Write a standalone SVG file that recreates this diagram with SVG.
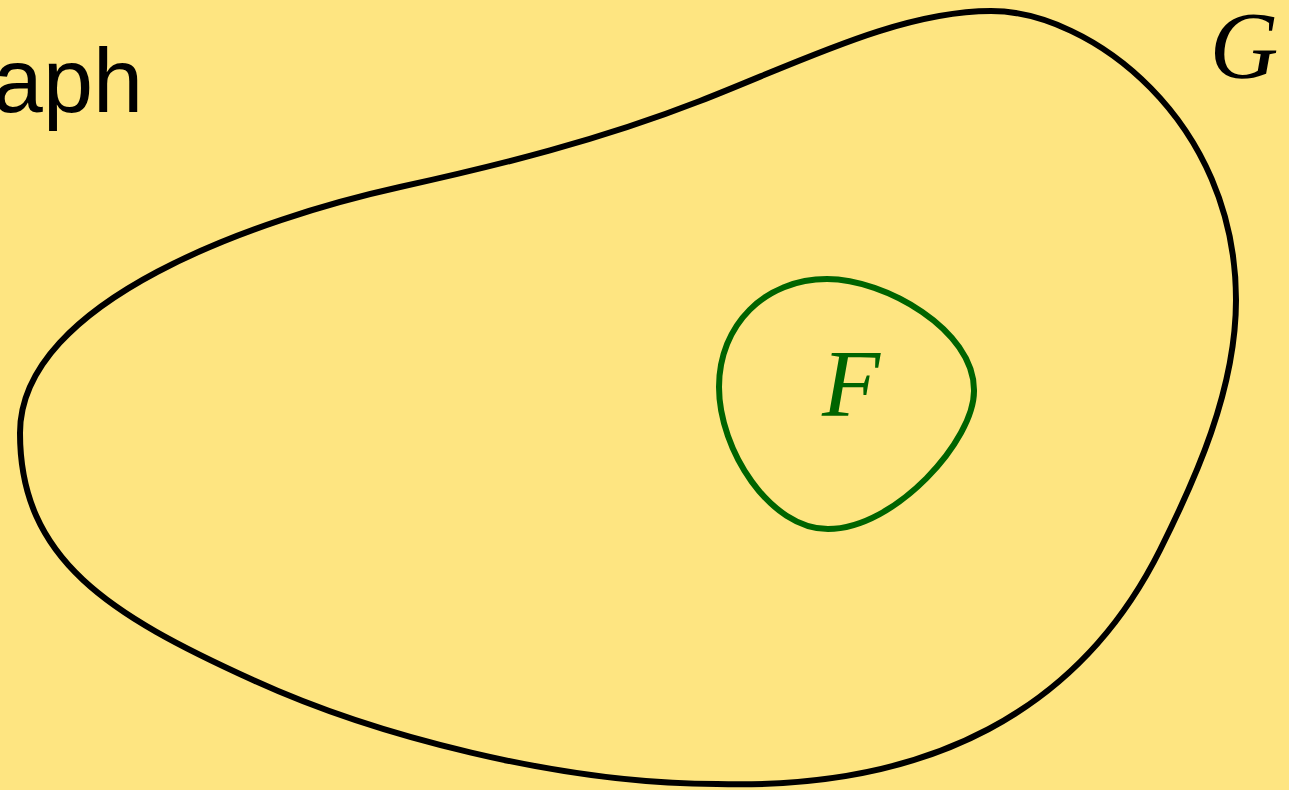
<svg xmlns="http://www.w3.org/2000/svg" width="1289" height="790" viewBox="0 0 1289 790">
  <style>
    .bg { fill: #FEE581; }
    .outline { fill: none; stroke-linejoin: round; }
    .g-outline { stroke: #000000; stroke-width: 6; }
    .f-outline { stroke: #006400; stroke-width: 6; }
    .math { font-family: "Liberation Serif", "DejaVu Serif", serif; font-style: italic; font-size: 95px; }
    .title { font-family: "Liberation Sans", "DejaVu Sans", sans-serif; font-size: 90px; fill: #000000; }
  </style>
  <rect class="bg" x="0" y="0" width="1289" height="790"/>
  <text class="title" x="143" y="112" text-anchor="end">Graph</text>
  <g id="node-G">
    <path class="outline g-outline" d="M 20,433 C 20,300 260,218 400,187 C 500,165 600,140 700,101 C 800,62 900,11 991,11 C 1090,11 1236,120 1236,300 C 1236,390 1195,480 1160,550 C 1080,710 930,790 717,784 C 560,784 373,735 253,680 C 110,615 20,560 20,433 Z"/>
    <text class="math" x="1244" y="78" text-anchor="middle" fill="#000000">G</text>
  </g>
  <g id="node-F">
    <path class="outline f-outline" d="M 719,387 C 719,325 765,279 827,279 C 885,279 974,330 974,390 C 975,440 895,529 828,529 C 770,529 719,450 719,387 Z"/>
    <text class="math" x="851" y="416" text-anchor="middle" fill="#006400">F</text>
  </g>
  <g id="connectors"/>
</svg>
